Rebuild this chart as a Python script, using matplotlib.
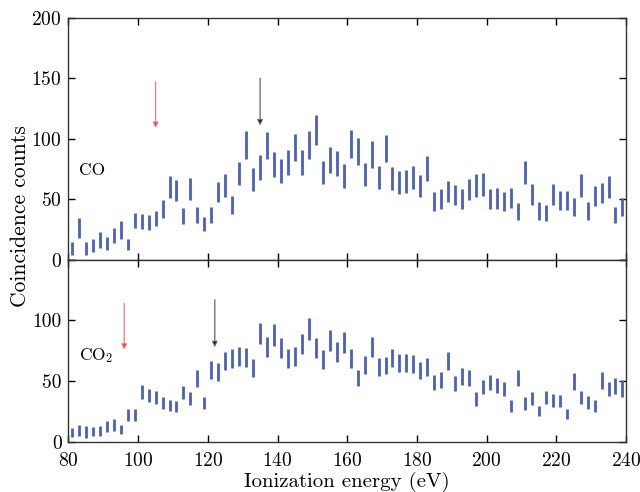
import numpy as np
import matplotlib
matplotlib.use("Agg")
import matplotlib.pyplot as plt

# bin centres (eV), 2 eV wide bins
energia = [81 + 2 * k for k in range(80)]

# CO: lower / upper end of each error bar
co_baixo = [3.9, 17.7, 3.9, 6.6, 9.4, 8.0, 13.5, 16.9, 7.7, 26.0,
            25.7, 24.6, 27.6, 34.8, 50.8, 48.6, 29.6, 49.4, 30.1, 23.8,
            30.1, 47.5, 52.2, 37.8, 61.6, 83.4, 57.2, 66.0, 82.9, 68.2,
            63.5, 69.9, 81.2, 70.4, 83.1, 94.8, 62.2, 71.5, 69.1, 59.7,
            84.0, 78.5, 60.8, 76.2, 58.3, 80.7, 57.5, 54.7, 55.2, 58.6,
            51.7, 65.5, 40.3, 42.3, 47.8, 45.0, 42.0, 49.2, 52.2, 53.0,
            42.3, 42.3, 40.1, 42.5, 32.9, 62.2, 45.3, 33.1, 31.8, 45.6,
            40.9, 40.9, 35.9, 52.2, 33.1, 44.2, 46.7, 51.1, 30.4, 36.2]
co_alto = [14.4, 34.3, 14.4, 17.4, 22.7, 18.5, 26.5, 31.8, 17.1, 38.4,
           37.6, 36.7, 40.3, 49.2, 69.1, 66.3, 42.5, 67.4, 43.4, 35.1,
           43.4, 64.6, 70.7, 52.8, 80.9, 106.6, 76.0, 86.5, 105.8, 89.2,
           83.4, 90.6, 104.1, 90.9, 106.1, 119.3, 82.0, 92.8, 90.1, 79.0,
           107.2, 100.6, 80.1, 98.1, 77.3, 103.3, 76.5, 73.2, 74.0, 77.6,
           69.9, 85.9, 56.4, 58.6, 65.2, 61.9, 58.3, 66.9, 70.7, 71.5,
           58.8, 59.1, 55.8, 59.1, 47.0, 81.8, 62.2, 47.5, 45.6, 62.7,
           57.2, 57.2, 50.8, 70.7, 47.5, 60.8, 63.8, 69.3, 43.9, 50.8]

# CO2: lower / upper end of each error bar
co2_baixo = [3.6, 4.7, 2.8, 4.7, 4.7, 8.0, 9.1, 6.1, 17.1, 17.4,
             35.6, 32.6, 31.2, 27.1, 25.1, 24.9, 35.1, 30.4, 45.3, 27.3,
             51.7, 50.0, 58.8, 61.0, 62.4, 61.9, 53.3, 80.4, 69.9, 79.0,
             69.1, 60.5, 62.7, 72.1, 84.0, 68.8, 59.9, 74.6, 66.0, 72.9,
             61.0, 46.4, 55.5, 69.9, 54.1, 55.5, 61.3, 57.5, 57.2, 56.6,
             51.7, 54.4, 42.8, 44.5, 58.8, 41.7, 47.2, 45.6, 29.8, 39.0,
             42.3, 40.1, 37.6, 24.9, 45.6, 26.5, 30.1, 21.5, 30.9, 29.0,
             28.5, 18.5, 42.8, 31.2, 27.1, 24.9, 43.9, 37.6, 39.5, 37.3]
co2_alto = [11.0, 13.8, 13.0, 11.9, 13.0, 17.1, 19.1, 13.8, 26.8, 27.1,
            47.0, 43.6, 41.7, 36.7, 34.3, 34.0, 46.4, 41.2, 58.8, 37.3,
            66.3, 64.6, 74.0, 76.8, 78.2, 77.6, 68.2, 98.3, 86.7, 96.7,
            85.9, 76.2, 78.5, 88.9, 102.2, 85.6, 75.7, 91.9, 82.0, 90.3,
            76.8, 59.4, 70.4, 86.5, 68.8, 70.2, 76.5, 72.7, 72.4, 71.3,
            66.0, 69.1, 55.2, 57.2, 74.0, 54.4, 61.0, 59.4, 40.9, 51.1,
            55.0, 52.8, 49.4, 34.5, 59.4, 37.0, 40.9, 29.8, 41.7, 39.5,
            38.7, 26.8, 56.6, 42.0, 37.6, 34.5, 57.2, 49.4, 52.2, 50.6]

# arrows: energy (eV), start, end, line colour, head colour
setas_co = [(105, 147, 109, "#f07a7a", "#e02020"),
            (135, 150, 111, "#666666", "black")]
setas_co2 = [(96, 114, 76, "#f07a7a", "#e02020"),
             (122, 117, 78, "#666666", "black")]

cor_barra = "#4b5fbd"

plt.rcParams["font.family"] = "serif"
plt.rcParams["font.serif"] = ["cmr10", "DejaVu Serif"]
plt.rcParams["mathtext.fontset"] = "cm"
plt.rcParams["axes.formatter.use_mathtext"] = True

fig = plt.figure(figsize=(6.4, 4.92), dpi=100)
ax1 = fig.add_axes([0.107, 0.472, 0.871, 0.492])
ax2 = fig.add_axes([0.107, 0.102, 0.871, 0.370], sharex=ax1)


def desenhar(ax, baixo, alto, setas, rotulo, y_rot):
    ax.vlines(energia, baixo, alto, color=cor_barra, lw=2.0)
    for x, y0, y1, cl, ch in setas:
        ax.annotate("", xy=(x, y1), xytext=(x, y0),
                    arrowprops=dict(arrowstyle="-|>", ec=cl, fc=ch, lw=0.9,
                                    mutation_scale=8, shrinkA=0, shrinkB=0))
    ax.text(83, y_rot, rotulo, fontsize=12.5, va="center")
    ax.tick_params(direction="in", top=True, right=True, length=5,
                   labelsize=14, width=1, pad=5)
    for s in ax.spines.values():
        s.set_linewidth(1.0)
        s.set_color("#333333")


desenhar(ax1, co_baixo, co_alto, setas_co, "CO", 74)
desenhar(ax2, co2_baixo, co2_alto, setas_co2, "CO$_2$", 71)

ax1.set_xlim(80, 240)
ax1.set_ylim(0, 200)
ax1.set_yticks([0, 50, 100, 150, 200])
ax1.tick_params(labelbottom=False)

ax2.set_ylim(0, 150)
ax2.set_yticks([0, 50, 100, 150])
ax2.set_yticklabels(["0", "50", "100", ""])
ax2.set_xticks(range(80, 241, 20))
ax2.tick_params(axis="x", pad=7)
ax2.set_xlabel("Ionization energy (eV)", fontsize=15, labelpad=2)

fig.text(0.032, 0.561, "Coincidence counts", rotation=90, va="center",
         ha="center", fontsize=15.5)

fig.savefig("out.png", dpi=100)
